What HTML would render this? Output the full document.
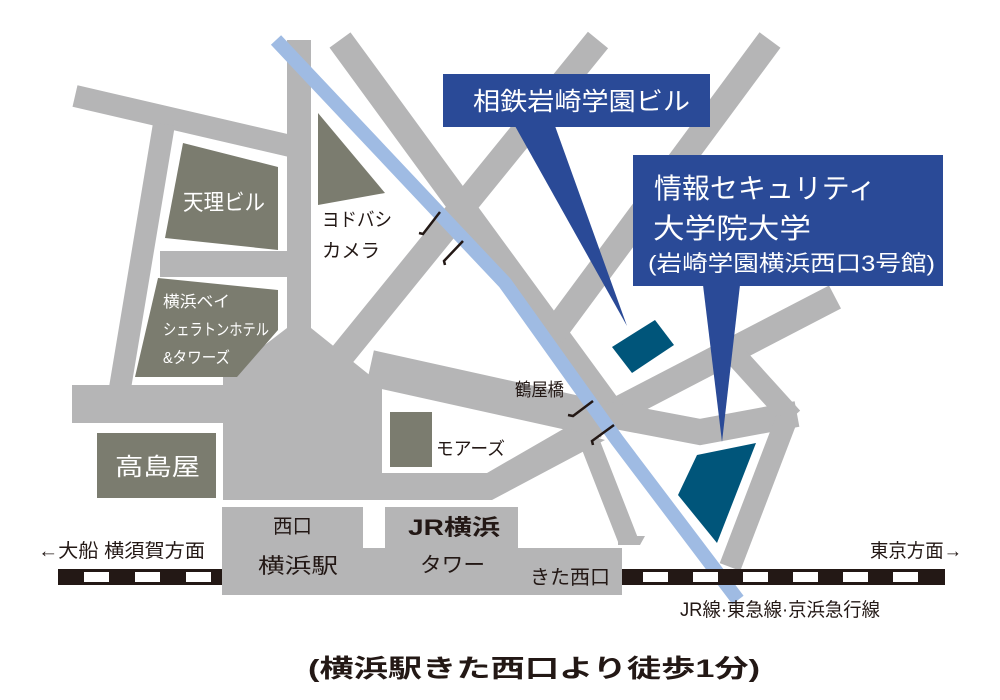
<!DOCTYPE html>
<html><head><meta charset="utf-8">
<style>
html,body{margin:0;padding:0;background:#fff;}
svg{display:block;}
text{font-family:"Liberation Sans","Noto Sans CJK JP",sans-serif;}
</style></head>
<body>
<svg width="1000" height="700" viewBox="0 0 1000 700" xmlns="http://www.w3.org/2000/svg">
<rect width="1000" height="700" fill="#fff"/>
<g stroke="#b5b5b6" fill="none" stroke-linecap="butt">
  <line x1="75" y1="96" x2="299" y2="148" stroke-width="22"/>
  <line x1="299" y1="40" x2="299" y2="350" stroke-width="24"/>
  <line x1="164" y1="124" x2="118" y2="400" stroke-width="22"/>
  <line x1="160" y1="264" x2="299" y2="264" stroke-width="26"/>
  <line x1="340" y1="40" x2="612" y2="412" stroke-width="26"/>
  <line x1="598" y1="40" x2="330" y2="370" stroke-width="26"/>
  <line x1="770" y1="40" x2="552" y2="335" stroke-width="26"/>
  <line x1="835" y1="297" x2="598" y2="420" stroke-width="26"/>
  <polyline points="605,414 700,432 797,414" stroke-width="26"/>
  <line x1="735" y1="355" x2="792" y2="418" stroke-width="22"/>
  <line x1="787" y1="418" x2="730" y2="567" stroke-width="22"/>
  <line x1="585" y1="430" x2="628" y2="540" stroke-width="20"/>
  <line x1="370" y1="368" x2="605" y2="420" stroke-width="36"/>
</g>
<g fill="#b5b5b6">
  <rect x="72" y="385" width="160" height="38"/>
  <polygon points="223,377 287,328 311,328 382,385 382,500 223,500"/>
  <polygon points="382,473 487,473 565,428 605,440 492,500 382,500"/>
  <polygon points="618,536 645,536 640,545 618,545"/>
  <rect x="222" y="507" width="141" height="88"/>
  <rect x="385" y="507" width="133" height="45"/>
  <rect x="222" y="548" width="400" height="47"/>
</g>
<polyline points="276,40 505,283 617,440 738,600" fill="none" stroke="#9fbbe3" stroke-width="14"/>
<g fill="#7b7c6f">
  <polygon points="183,143 278,167 278,250 165,238"/>
  <polygon points="158,278 278,290 278,330 237,377 135,377"/>
  <polygon points="318,113 385,193 318,205"/>
  <rect x="97" y="433" width="119" height="65"/>
  <rect x="390" y="412" width="42" height="55"/>
</g>
<g fill="#00557a">
  <polygon points="612,347 655,320 674,345 632,373"/>
  <polygon points="697,455 756,443 717,543 678,495"/>
</g>
<g stroke="#231815" stroke-width="2.5" fill="none">
  <polyline points="419,233 423,234 440,212"/>
  <polyline points="445,265 444,261 463,241"/>
  <polyline points="568,415 573,416 593,401"/>
  <polyline points="593,445 592,441 614,425"/>
</g>
<g>
  <rect x="58" y="569" width="164" height="16" fill="#231815"/>
  <rect x="84" y="572" width="25" height="10" fill="#fff"/>
  <rect x="135" y="572" width="25" height="10" fill="#fff"/>
  <rect x="186" y="572" width="25" height="10" fill="#fff"/>
  <rect x="622" y="569" width="323" height="16" fill="#231815"/>
  <rect x="643" y="572" width="25" height="10" fill="#fff"/>
  <rect x="693" y="572" width="25" height="10" fill="#fff"/>
  <rect x="743" y="572" width="25" height="10" fill="#fff"/>
  <rect x="793" y="572" width="25" height="10" fill="#fff"/>
  <rect x="843" y="572" width="25" height="10" fill="#fff"/>
  <rect x="893" y="572" width="25" height="10" fill="#fff"/>
</g>
<g fill="#2a4a97">
  <rect x="443" y="74" width="267" height="53"/>
  <polygon points="515,126 555,126 627,326"/>
  <rect x="633" y="155" width="310" height="131"/>
  <polygon points="703,285 740,285 722,442"/>
</g>
<g fill="#fff">
  <text x="473" y="110" font-size="25" textLength="217" lengthAdjust="spacingAndGlyphs">相鉄岩崎学園ビル</text>
  <text x="654" y="198" font-size="28" textLength="222" lengthAdjust="spacingAndGlyphs">情報セキュリティ</text>
  <text x="653" y="238" font-size="28" textLength="158" lengthAdjust="spacingAndGlyphs">大学院大学</text>
  <text x="648" y="271" font-size="22" textLength="287" lengthAdjust="spacingAndGlyphs">(岩崎学園横浜西口3号館)</text>
  <text x="183" y="210" font-size="22" textLength="82" lengthAdjust="spacingAndGlyphs">天理ビル</text>
  <text x="163" y="307" font-size="16" textLength="67" lengthAdjust="spacingAndGlyphs">横浜ベイ</text>
  <text x="163" y="335" font-size="16" textLength="106" lengthAdjust="spacingAndGlyphs">シェラトンホテル</text>
  <text x="163" y="363" font-size="16" textLength="67" lengthAdjust="spacingAndGlyphs">&amp;タワーズ</text>
  <text x="115" y="475" font-size="24" textLength="85" lengthAdjust="spacingAndGlyphs">高島屋</text>
</g>
<g fill="#231815">
  <text x="322" y="226" font-size="19" textLength="70" lengthAdjust="spacingAndGlyphs">ヨドバシ</text>
  <text x="322" y="257" font-size="19" textLength="58" lengthAdjust="spacingAndGlyphs">カメラ</text>
  <text x="436" y="455" font-size="18" textLength="69" lengthAdjust="spacingAndGlyphs">モアーズ</text>
  <text x="515" y="396" font-size="18" textLength="49" lengthAdjust="spacingAndGlyphs">鶴屋橋</text>
  <text x="273" y="533" font-size="20" textLength="39" lengthAdjust="spacingAndGlyphs">西口</text>
  <text x="258" y="573" font-size="21" textLength="80" lengthAdjust="spacingAndGlyphs">横浜駅</text>
  <text x="408" y="535" font-size="22" font-weight="bold" textLength="92" lengthAdjust="spacingAndGlyphs">JR横浜</text>
  <text x="420" y="572" font-size="21" textLength="65" lengthAdjust="spacingAndGlyphs">タワー</text>
  <text x="530" y="584" font-size="20" textLength="80" lengthAdjust="spacingAndGlyphs">きた西口</text>
  <text x="38" y="557" font-size="19" textLength="167" lengthAdjust="spacingAndGlyphs">←大船 横須賀方面</text>
  <text x="870" y="557" font-size="19" textLength="92" lengthAdjust="spacingAndGlyphs">東京方面→</text>
  <text x="680" y="616" font-size="19" textLength="200" lengthAdjust="spacingAndGlyphs">JR線·東急線·京浜急行線</text>
  <text x="308" y="677" font-size="25" font-weight="bold" textLength="452" lengthAdjust="spacingAndGlyphs">(横浜駅きた西口より徒歩1分)</text>
</g>
</svg>
</body></html>
